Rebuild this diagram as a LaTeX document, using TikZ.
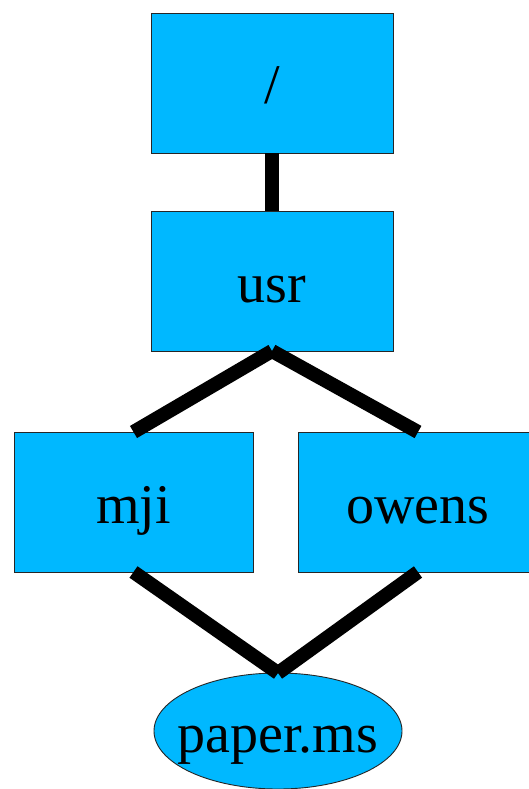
\documentclass[tikz,border=0pt]{standalone}
\usepackage{fontspec}
\setmainfont{Liberation Serif}
\usetikzlibrary{shapes.geometric}
\definecolor{boxblue}{RGB}{0,184,255}
\begin{document}
\begin{tikzpicture}[x=1pt,y=-1pt,
  dirbox/.style={rectangle,draw=black!85,line width=0.9pt,fill=boxblue,
    minimum width=#1,minimum height=140pt,inner sep=0pt,outer sep=0pt,
    font=\fontsize{56}{60}\selectfont,text height=42pt,text depth=0pt},
  dirbox/.default=242pt,
  filebox/.style={ellipse,draw=black!85,line width=0.9pt,fill=boxblue,
    minimum width=248pt,minimum height=116pt,inner sep=0pt,outer sep=0pt,
    font=\fontsize{56}{60}\selectfont,text height=42pt,text depth=0pt},
  link/.style={line width=14pt,line cap=butt,black}]
\path[use as bounding box] (0,0) rectangle (529,789);
\clip (0,0) rectangle (529,789);
\node[dirbox] (root) at (272,83) {/};
\node[dirbox] (usr) at (272,281) {usr};
\node[dirbox=239pt] (mji) at (133.5,502) {mji};
\node[dirbox=240pt] (owens) at (418,502) {owens};
\node[filebox] (paper) at (278,731) {\makebox[0pt]{paper.ms}};
\draw[link] (root.south) -- (usr.north);
\draw[link] (usr.south) -- (mji.north);
\draw[link] (usr.south) -- (owens.north);
\draw[link] (mji.south) -- (paper.north);
\draw[link] (owens.south) -- (paper.north);
\end{tikzpicture}
\end{document}
